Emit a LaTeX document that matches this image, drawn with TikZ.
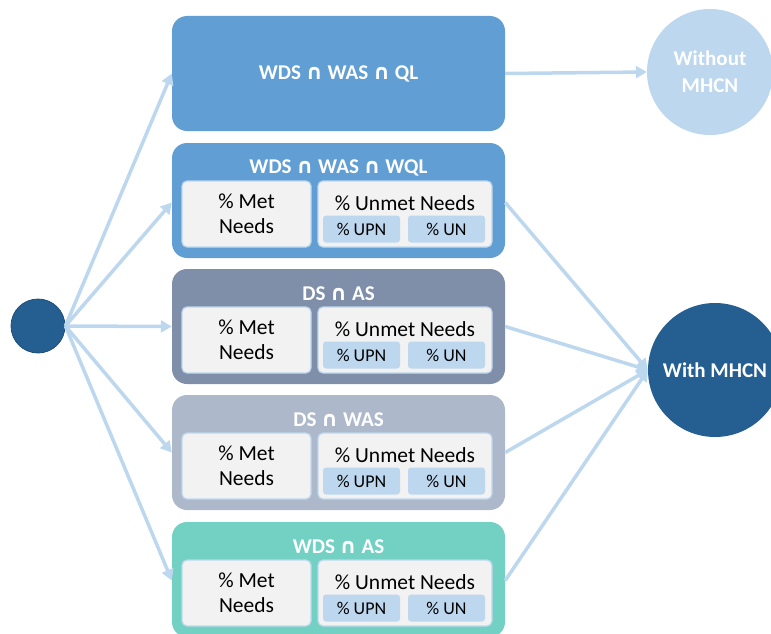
\documentclass[tikz,border=0pt]{standalone}
\usepackage{fontspec}
\setmainfont{Carlito}
\newfontfamily\symfont{DejaVu Sans}[Scale=1.0]
\usetikzlibrary{arrows.meta}

\definecolor{blueA}{HTML}{619ED3}
\definecolor{slate}{HTML}{7F8EA9}
\definecolor{greyblue}{HTML}{ADB9CA}
\definecolor{teal}{HTML}{72D1C3}
\definecolor{paleblue}{HTML}{BDD7EE}
\definecolor{navy}{HTML}{255E91}
\definecolor{navyedge}{HTML}{1F4E79}
\definecolor{panelgrey}{HTML}{F2F2F2}

% bold intersection sign
\newcommand\isect{{\symfont\bfseries ∩}}

\tikzset{
  panel/.style={rectangle, rounded corners=15pt, draw=none, minimum width=333pt, inner sep=0pt},
  heading/.style={text=white, font=\fontsize{21}{26}\selectfont\bfseries, inner sep=0pt},
  inbox/.style={rectangle, rounded corners=5pt, fill=panelgrey, draw=paleblue, line width=1.2pt,
                inner sep=0pt, align=center, font=\fontsize{21.5}{25}\selectfont},
  label/.style={font=\fontsize{21.5}{25}\selectfont, inner sep=0pt},
  subbox/.style={rectangle, rounded corners=3pt, fill=paleblue, minimum width=77pt, minimum height=27pt,
                 inner sep=0pt, font=\fontsize{18}{20}\selectfont},
  link/.style={draw=paleblue, line width=3.5pt, -{Triangle[length=11pt,width=12pt]}},
  bubble/.style={circle, inner sep=0pt, align=center, text=white,
                 font=\fontsize{21}{27}\selectfont\bfseries}
}

% One scenario panel: name, top edge, fill colour, heading
\newcommand\scenario[4]{%
  \node[panel, fill=#3, minimum height=115pt] (#1) at (338.5, #2+57.5) {};
  \node[heading] (#1-head) at (338.5, #2+25) {#4};
  \node[inbox, minimum width=129pt, minimum height=66pt] (#1-met) at (246.5, #2+71) {\% Met\\Needs};
  \node[inbox, minimum width=174pt, minimum height=66pt] (#1-unmet) at (405, #2+71) {};
  \node[label] (#1-unmet-t) at (405, #2+60) {\% Unmet Needs};
  \node[subbox] (#1-upn) at (361.5, #2+86) {\% UPN};
  \node[subbox] (#1-un) at (446.5, #2+86) {\% UN};
}

\begin{document}
\begin{tikzpicture}[x=1pt, y=-1pt]
\useasboundingbox (0,0) rectangle (771,634);

% source and outcome circles
\node[circle, fill=navy, draw=navyedge, line width=0.8pt, minimum size=54pt, inner sep=0pt] (src) at (38,326) {};
\node[bubble, fill=paleblue, minimum size=126pt] (without) at (710,72) {Without\\MHCN};
\node[bubble, fill=navy, minimum size=134pt] (with) at (715,370) {With MHCN};

% panels
\node[panel, fill=blueA, minimum height=115pt] (b1) at (338.5, 73.5) {};
\node[heading] (b1-head) at (338.5, 74) {WDS \isect{} WAS \isect{} QL};
\scenario{b2}{143}{blueA}{WDS \isect{} WAS \isect{} WQL}
\scenario{b3}{269}{slate}{DS \isect{} AS}
\scenario{b4}{395}{greyblue}{DS \isect{} WAS}
\scenario{b5}{522}{teal}{WDS \isect{} AS}

% connectors
\draw[link] (src.east) -- (b1.west);
\draw[link] (src.east) -- ([yshift=-2pt]b2.west);
\draw[link] (src.east) -- (b3.west);
\draw[link] (src.east) -- (b4.west);
\draw[link] (src.east) -- ([yshift=-1pt]b5.west);

\draw[link] (b1.east) -- (without.west);
\draw[link] ([yshift=-2pt]b2.east) -- (with.west);
\draw[link] (b3.east) -- (with.west);
\draw[link] (b4.east) -- (with.west);
\draw[link] ([yshift=-1pt]b5.east) -- (with.west);
\end{tikzpicture}
\end{document}
